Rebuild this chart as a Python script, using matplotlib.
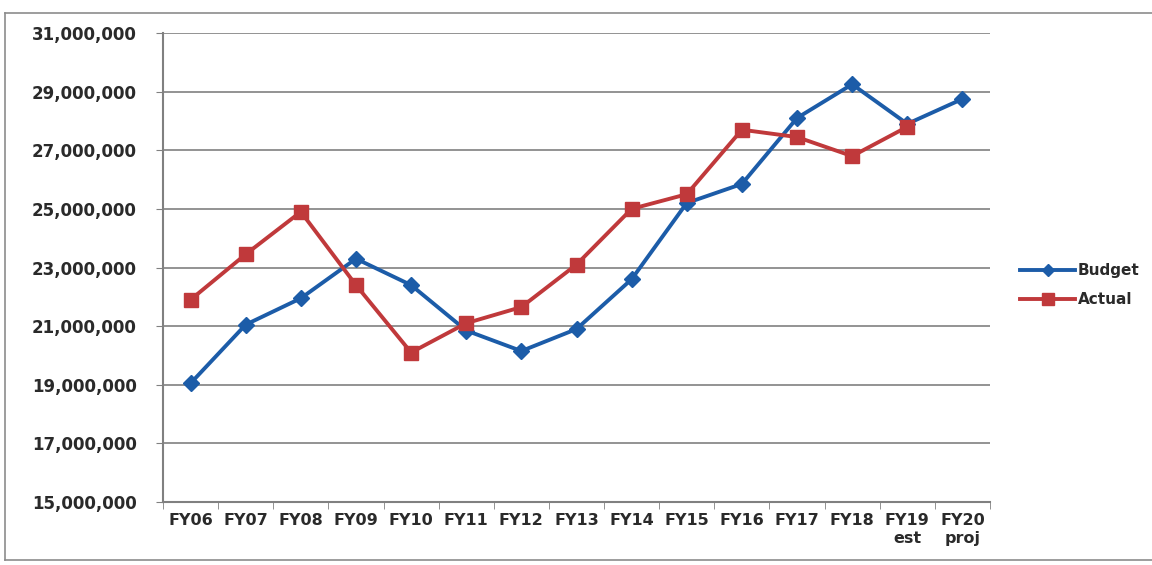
import matplotlib
matplotlib.use("Agg")
import matplotlib.pyplot as plt
from matplotlib.lines import Line2D
from matplotlib.ticker import FuncFormatter, FixedLocator
import numpy as np

# data
years = ["FY06", "FY07", "FY08", "FY09", "FY10", "FY11", "FY12", "FY13",
         "FY14", "FY15", "FY16", "FY17", "FY18", "FY19\nest", "FY20\nproj"]
budget = [19.05e6, 21.05e6, 21.95e6, 23.3e6, 22.4e6, 20.85e6, 20.15e6, 20.9e6,
          22.6e6, 25.2e6, 25.85e6, 28.1e6, 29.25e6, 27.9e6, 28.75e6]
actual = [21.9e6, 23.45e6, 24.9e6, 22.4e6, 20.1e6, 21.1e6, 21.65e6, 23.1e6,
          25.0e6, 25.5e6, 27.7e6, 27.45e6, 26.8e6, 27.8e6]
yticks = [15e6, 17e6, 19e6, 21e6, 23e6, 25e6, 27e6, 29e6, 31e6]

plt.rcParams['font.family'] = ['DejaVu Sans']

fig = plt.figure(figsize=(11.52, 5.65), dpi=100)
ax = fig.add_axes([163/1152, 1-502/565, (990-163)/1152, (502-33)/565])

# outer chart border (left, top, bottom only - right side is cut off)
L, T, B = 5/1152, 1-13/565, 1-560/565
for xs, ys in [([L, L], [B, T]), ([L, 1], [T, T]), ([L, 1], [B, B])]:
    fig.add_artist(Line2D(xs, ys, transform=fig.transFigure, color="#8c8c8c", lw=1.2))

x = np.arange(len(years))
ax.plot(x, budget, color="#1c5ca8", lw=2.8, marker="D", ms=8, label="Budget")
ax.plot(np.arange(len(actual)), actual, color="#c0393b", lw=2.8, marker="s", ms=10,
        label="Actual")

ax.set_xlim(-0.5, len(years) - 0.5)
ax.set_ylim(15e6, 31e6)
ax.set_yticks(yticks)
ax.yaxis.set_major_formatter(FuncFormatter(lambda v, p: f"{v:,.0f}"))
ax.grid(axis="y", color="#808080", lw=1.2)
ax.set_axisbelow(True)

ax.set_xticks(x)
ax.set_xticklabels(years)
ax.xaxis.set_minor_locator(FixedLocator(np.arange(-0.5, len(years), 1)))
ax.tick_params(axis="x", which="major", length=0, pad=8, labelsize=11.5)
ax.tick_params(axis="x", which="minor", length=5, color="#808080")
ax.tick_params(axis="y", length=5, color="#808080", labelsize=12, pad=14)
for lab in ax.get_xticklabels() + ax.get_yticklabels():
    lab.set_fontweight("bold")
    lab.set_color("#2a2a2a")

for s in ["top", "right"]:
    ax.spines[s].set_visible(False)
for s in ["left", "bottom"]:
    ax.spines[s].set_color("#808080")
    ax.spines[s].set_linewidth(1.5)

leg = ax.legend(loc="center left", bbox_to_anchor=(1.02, 0.462), frameon=False,
                handlelength=3.6, prop={"weight": "bold", "size": 11},
                labelspacing=0.9, handletextpad=0.15, markerscale=0.8)
for t in leg.get_texts():
    t.set_color("#2a2a2a")

fig.savefig("out.png", dpi=100)
